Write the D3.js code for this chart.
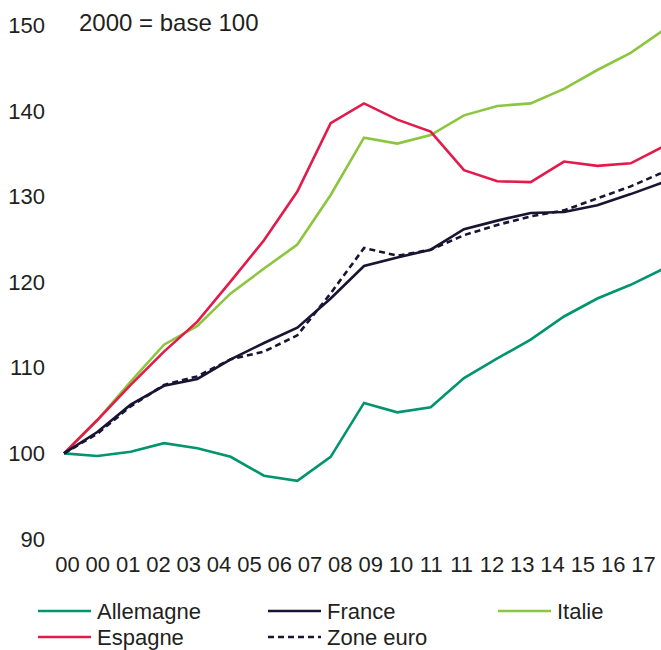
<!DOCTYPE html>
<html>
<head>
<meta charset="utf-8">
<script src="https://cdn.jsdelivr.net/npm/d3@7"></script>
<style>
  html, body { margin: 0; padding: 0; background: #fff; }
  svg { display: block; font-family: "Liberation Sans", Arial, sans-serif; }
</style>
</head>
<body>
<svg id="chart" width="661" height="650"></svg>
<script>
// Indices (base 100 en 2000), un point par période
const allemagne = [100, 99.7, 100.2, 101.2, 100.6, 99.6, 97.4, 96.8, 99.6, 105.9, 104.8, 105.4, 108.8, 111.1, 113.3, 116.0, 118.1, 119.7, 121.6];
const france    = [100, 102.5, 105.7, 107.9, 108.7, 111.0, 112.9, 114.7, 118.1, 121.9, 122.9, 123.8, 126.2, 127.2, 128.1, 128.2, 129.0, 130.3, 131.7];
const italie    = [100, 103.9, 108.4, 112.7, 114.9, 118.7, 121.6, 124.4, 130.2, 136.9, 136.2, 137.2, 139.5, 140.6, 140.9, 142.6, 144.8, 146.8, 149.5];
const espagne   = [100, 103.9, 108.0, 111.9, 115.4, 120.1, 124.9, 130.6, 138.6, 140.9, 139.0, 137.6, 133.1, 131.8, 131.7, 134.1, 133.6, 133.9, 135.9];
const zoneEuro  = [100, 102.3, 105.5, 108.0, 109.0, 111.0, 111.9, 113.8, 118.7, 124.0, 123.1, 123.8, 125.5, 126.7, 127.7, 128.4, 129.8, 131.2, 132.9];

const xLabels = ["00", "00", "01", "02", "03", "04", "05", "06", "07", "08", "09", "10", "11", "11", "12", "13", "14", "15", "16", "17"];
const yTicks = [90, 100, 110, 120, 130, 140, 150];

const series = [
  { name: "Allemagne", values: allemagne, color: "#00956F", dash: null },
  { name: "France",    values: france,    color: "#1A1433", dash: null },
  { name: "Italie",    values: italie,    color: "#8CC63F", dash: null },
  { name: "Espagne",   values: espagne,   color: "#E31B4B", dash: null },
  { name: "Zone euro", values: zoneEuro,  color: "#1A1433", dash: "6,4" }
];

const svg = d3.select("#chart");
const fontSize = 22;
const textColor = "#231F20";

const y = d3.scaleLinear().domain([90, 150]).range([539, 25.5]);
const x = d3.scaleLinear().domain([0, allemagne.length - 1]).range([64, 664]);
const xl = d3.scalePoint().domain(d3.range(xLabels.length)).range([67, 643]);

// Axe vertical : étiquettes seules
const yAxis = d3.axisLeft(y).tickValues(yTicks).tickSize(0).tickPadding(0);
svg.append("g")
  .attr("transform", "translate(45,0)")
  .call(yAxis)
  .call(g => g.select(".domain").remove())
  .call(g => g.selectAll("text")
    .attr("font-size", fontSize)
    .attr("font-family", "Liberation Sans, Arial, sans-serif")
    .attr("fill", textColor));

// Axe horizontal : étiquettes seules
const xAxis = d3.axisBottom(xl).tickFormat(i => xLabels[i]).tickSize(0).tickPadding(0);
svg.append("g")
  .attr("transform", "translate(0,556)")
  .call(xAxis)
  .call(g => g.select(".domain").remove())
  .call(g => g.selectAll("text")
    .attr("font-size", fontSize)
    .attr("font-family", "Liberation Sans, Arial, sans-serif")
    .attr("fill", textColor));

svg.append("text")
  .attr("x", 79)
  .attr("y", 31)
  .attr("font-size", 24)
  .attr("fill", textColor)
  .text("2000 = base 100");

const line = d3.line()
  .x((d, i) => x(i))
  .y(d => y(d));

// Ordre de tracé : Allemagne, Italie, Espagne, Zone euro, France
const drawOrder = ["Allemagne", "Italie", "Espagne", "Zone euro", "France"];
drawOrder.forEach(n => {
  const s = series.find(d => d.name === n);
  svg.append("path")
    .datum(s.values)
    .attr("fill", "none")
    .attr("stroke", s.color)
    .attr("stroke-width", 2.6)
    .attr("stroke-linejoin", "miter")
    .attr("stroke-dasharray", s.dash)
    .attr("d", line);
});

// Légende
const legendPos = [
  { name: "Allemagne", x: 38,  y: 611 },
  { name: "France",    x: 268, y: 611 },
  { name: "Italie",    x: 498, y: 611 },
  { name: "Espagne",   x: 38,  y: 637 },
  { name: "Zone euro", x: 268, y: 637 }
];
legendPos.forEach(p => {
  const s = series.find(d => d.name === p.name);
  const g = svg.append("g");
  g.append("line")
    .attr("x1", p.x).attr("x2", p.x + 53)
    .attr("y1", p.y).attr("y2", p.y)
    .attr("stroke", s.color)
    .attr("stroke-width", 2.6)
    .attr("stroke-dasharray", s.dash);
  g.append("text")
    .attr("x", p.x + 59)
    .attr("y", p.y)
    .attr("dy", "0.35em")
    .attr("font-size", fontSize)
    .attr("fill", textColor)
    .text(p.name);
});
</script>
</body>
</html>
